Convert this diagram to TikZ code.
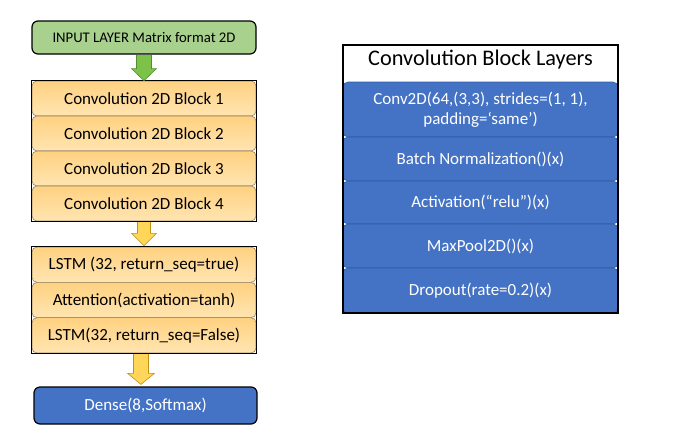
\documentclass[tikz,border=0pt]{standalone}
\usepackage{fontspec}
\setmainfont{Carlito}
\usetikzlibrary{calc}
\definecolor{inpgreen}{RGB}{169,209,142}
\definecolor{arrgreen}{RGB}{125,194,72}
\definecolor{arrgreenline}{RGB}{85,140,50}
\definecolor{orgtop}{RGB}{255,209,128}
\definecolor{orgbot}{RGB}{255,229,178}
\definecolor{orgline}{RGB}{150,130,95}
\definecolor{arryel}{RGB}{255,214,90}
\definecolor{arryelline}{RGB}{190,145,20}
\definecolor{blk}{RGB}{68,114,196}
\definecolor{blkline}{RGB}{50,90,165}
\begin{document}
\begin{tikzpicture}[x=1pt,y=-1pt,
  box/.style={rectangle,rounded corners=6pt,draw=black,line width=1.2pt,minimum width=224pt,inner sep=0pt,font=\fontsize{14.7}{18}\selectfont},
  orow/.style={rectangle,rounded corners=5pt,draw=orgline,line width=0.6pt,top color=orgtop,bottom color=orgbot,minimum width=224pt,minimum height=35pt,inner sep=0pt,font=\fontsize{17}{20}\selectfont},
  brow/.style={rectangle,rounded corners=5pt,draw=blkline,line width=0.6pt,fill=blk,text=white,minimum width=275pt,inner sep=0pt,align=center,font=\fontsize{17}{20}\selectfont},
  frame/.style={draw=black,line width=1.5pt},
  garrow/.style={draw=arrgreenline,fill=arrgreen,line width=0.6pt},
  yarrow/.style={draw=arryelline,fill=arryel,line width=0.6pt}]
\useasboundingbox (0,0) rectangle (680,432);
% left column
\node[box,fill=inpgreen,minimum height=33pt] (inp) at (144,37.5) {INPUT LAYER Matrix format 2D};
\node[orow] (c1) at (144,98.5) {Convolution 2D Block 1};
\node[orow] (c2) at (144,133.5) {Convolution 2D Block 2};
\node[orow] (c3) at (144,168.5) {Convolution 2D Block 3};
\node[orow] (c4) at (144,203.5) {Convolution 2D Block 4};
\draw[frame] (c1.north west) rectangle (c4.south east);
\node[orow,minimum height=35.33pt] (l1) at (144,264.67) {LSTM (32, return\_seq=true)};
\node[orow,minimum height=35.33pt] (l2) at (144,300) {Attention(activation=tanh)};
\node[orow,minimum height=35.33pt] (l3) at (144,335.33) {LSTM(32, return\_seq=False)};
\draw[frame] (l1.north west) rectangle (l3.south east);
\node[box,fill=blk,text=white,minimum width=223pt,minimum height=37pt,font=\fontsize{17}{20}\selectfont] (dense) at (145.5,405.5) {Dense(8,Softmax)};
% block arrows
\draw[garrow] ($(inp.south)+(-7.5,0.6)$) -- ($(inp.south)+(-7.5,14)$) -- ($(inp.south)+(-12.5,14)$)
  -- (c1.north) -- ($(inp.south)+(12.5,14)$) -- ($(inp.south)+(7.5,14)$) -- ($(inp.south)+(7.5,0.6)$);
\draw[yarrow] ($(c4.south)+(-6.5,0.8)$) -- ($(c4.south)+(-6.5,12)$) -- ($(c4.south)+(-12.5,12)$)
  -- ($(l1.north)+(0,-1)$) -- ($(c4.south)+(12.5,12)$) -- ($(c4.south)+(6.5,12)$) -- ($(c4.south)+(6.5,0.8)$);
\coordinate (a2) at ($(l3.south)+(-3,0)$);
\draw[yarrow] ($(a2)+(-7.5,0.8)$) -- ($(a2)+(-7.5,20)$) -- ($(a2)+(-13.5,20)$)
  -- ($(dense.north)+(-4.5,-2)$) -- ($(a2)+(13.5,20)$) -- ($(a2)+(7.5,20)$) -- ($(a2)+(7.5,0.8)$);
% right panel
\node[brow,minimum height=55pt] (b1) at (480.5,109.5) {Conv2D(64,(3,3), strides=(1, 1),\\padding=‘same’)};
\node[brow,minimum height=44pt] (b2) at (480.5,159) {Batch Normalization()(x)};
\node[brow,minimum height=43pt] (b3) at (480.5,202.5) {Activation(“relu”)(x)};
\node[brow,minimum height=44pt] (b4) at (480.5,246) {MaxPool2D()(x)};
\node[brow,minimum height=45pt] (b5) at (480.5,290.5) {Dropout(rate=0.2)(x)};
\node[frame,rectangle,minimum width=275pt,minimum height=268pt,inner sep=0pt] (panel) at (480.5,179) {};
\node[font=\fontsize{22.3}{26}\selectfont,inner sep=0pt] (title) at (480.5,60) {Convolution Block Layers};
\end{tikzpicture}
\end{document}
